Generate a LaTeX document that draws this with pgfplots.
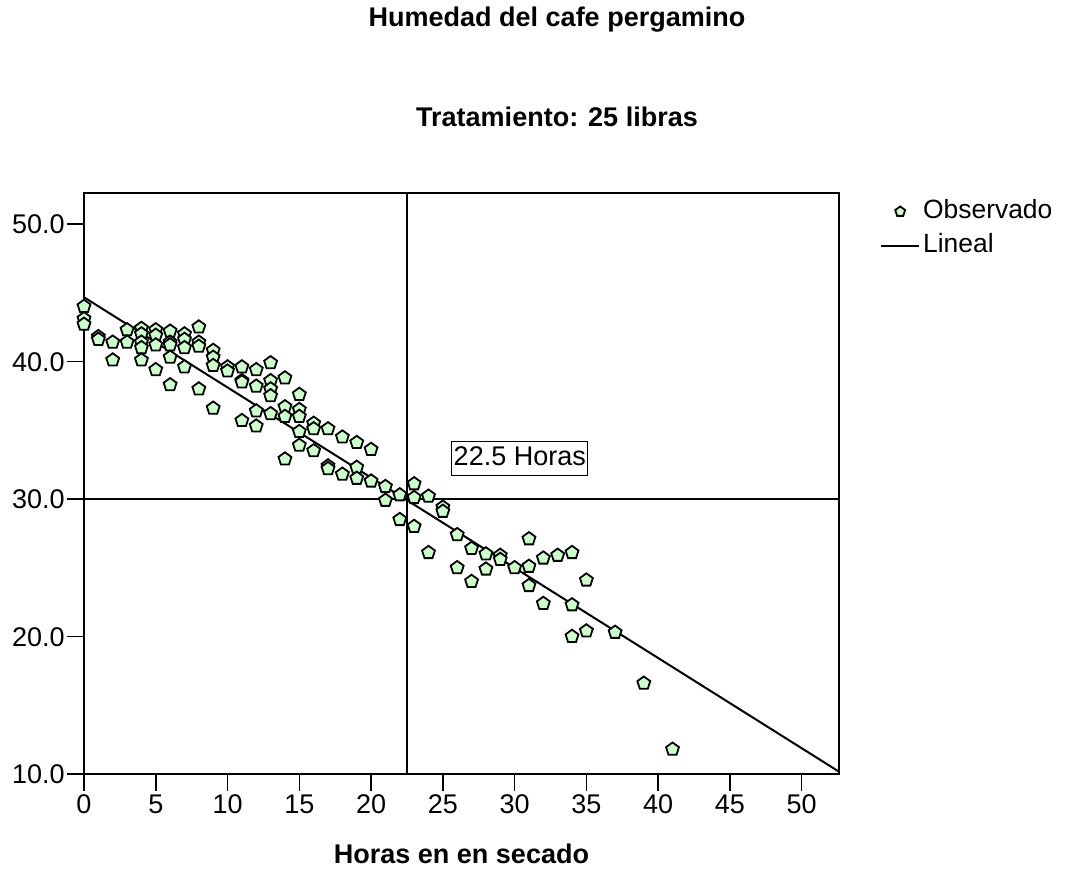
\documentclass[border=0pt]{standalone}
\usepackage{fontspec}
\setmainfont{Liberation Sans}
\usepackage{pgfplots}
\usepackage{pgfplotstable}
\pgfplotsset{compat=1.18}
\usetikzlibrary{plotmarks}
\definecolor{obsgreen}{RGB}{204,255,204}

% muestras de la leyenda
\pgfplotsset{
  lineleg/.style={legend image code/.code={\draw[##1] (0pt,0pt) -- (19pt,0pt);}},
  markleg/.style={legend image code/.code={\draw[##1, mark size=2.6pt] plot coordinates {(9.5pt,0pt)};}},
}

% Humedad observada (%) frente a horas de secado
\pgfplotstableread{
x y
0 44.0
0 43.1
0 42.7
1 41.8
1 41.6
2 41.4
2 40.1
3 42.3
3 41.4
4 42.4
4 42.0
4 41.4
4 41.0
4 40.1
5 42.3
5 41.9
5 41.2
5 39.4
6 42.2
6 41.4
6 41.2
6 40.3
6 38.3
7 42.0
7 41.6
7 41.0
7 39.6
8 42.5
8 41.4
8 41.1
8 38.0
9 40.8
9 40.3
9 39.7
9 36.6
10 39.6
10 39.3
11 39.6
11 38.6
11 38.5
11 35.7
12 39.4
12 38.2
12 36.4
12 35.3
13 39.9
13 38.6
13 38.0
13 37.5
13 36.2
14 38.8
14 36.7
14 36.0
14 32.9
15 37.6
15 36.5
15 36.0
15 34.9
15 33.9
16 35.5
16 35.1
16 33.5
17 35.1
17 32.4
17 32.2
18 34.5
18 31.8
19 34.1
19 32.3
19 31.5
20 33.6
20 31.3
21 30.9
21 29.9
22 30.3
22 28.5
23 31.1
23 30.1
23 28.0
24 30.2
24 26.1
25 29.4
25 29.1
26 27.4
26 25.0
27 26.4
27 24.0
28 26.0
28 24.9
29 25.9
29 25.6
30 25.0
31 27.1
31 25.1
31 23.7
32 25.7
32 22.4
33 25.9
34 26.1
34 22.3
34 20.0
35 24.1
35 20.4
37 20.3
39 16.6
41 11.8
}\observado

\begin{document}
\begin{tikzpicture}
\begin{axis}[
  at={(0,0)}, anchor=south west,
  scale only axis, width=377.5pt, height=290.5pt,
  clip=false,
  xmin=0, xmax=52.6, ymin=10, ymax=52.25,
  xtick={0,5,...,50}, ytick={10,20,...,50},
  tick pos=left,
  tick align=outside, major tick length=8.5pt,
  tick style={black, line width=0.75pt},
  axis line style={line width=0.75pt},
  tick label style={font=\fontsize{13.5}{15}\selectfont},
  x tick label style={text height=9.8pt, text depth=0pt, anchor=north, inner sep=1pt},
  y tick label style={text height=9.8pt, text depth=0pt, anchor=east, inner sep=1pt,
    /pgf/number format/fixed, /pgf/number format/fixed zerofill, /pgf/number format/precision=1},
  /pgf/number format/assume math mode=true,
  xlabel={\textbf{Horas en en secado}},
  xlabel style={at={(axis description cs:0.5,-0.138)}, anchor=center, font=\fontsize{13.5}{16}\selectfont},
  reverse legend,
  legend style={at={(axis description cs:1.054,0.997)}, anchor=north west,
    draw=none, fill=none, inner sep=0pt, row sep=0.5pt,
    font=\fontsize{13.2}{15}\selectfont,
    nodes={inner xsep=1.5pt, text height=9.5pt, text depth=3pt}},
  legend cell align=left,
]
% lineas de referencia
\addplot[black, line width=0.7pt, forget plot] coordinates {(22.5,10) (22.5,52.25)};
\addplot[black, line width=0.7pt, forget plot] coordinates {(0,30) (52.6,30)};
% ajuste lineal
\addplot[black, line width=1pt, lineleg]
  coordinates {(0,44.67) (52.6,10.17)};
\addlegendentry{Lineal}
% observaciones
\addplot[only marks, mark=pentagon*, mark size=3.4pt,
  mark options={fill=obsgreen, draw=black, line width=0.9pt}, markleg]
  table[x=x, y=y] {\observado};
\addlegendentry{Observado}

\node[draw, line width=0.5pt, inner xsep=1pt, inner ysep=2pt, text height=10pt, text depth=3pt,
  font=\fontsize{13.5}{16}\selectfont] at (axis cs:30.36,32.94) {22.5 Horas};

\node[font=\fontsize{13.5}{16}\selectfont\bfseries] at (axis description cs:0.6265,1.2978) {Humedad del cafe pergamino};
\node[font=\fontsize{13.5}{16}\selectfont\bfseries] at (axis description cs:0.6265,1.1308) {Tratamiento: 25 libras};
\end{axis}
\pgfresetboundingbox
\path[use as bounding box] (-42pt,-47.5pt) rectangle (492pt,387pt);
\end{tikzpicture}
\end{document}
